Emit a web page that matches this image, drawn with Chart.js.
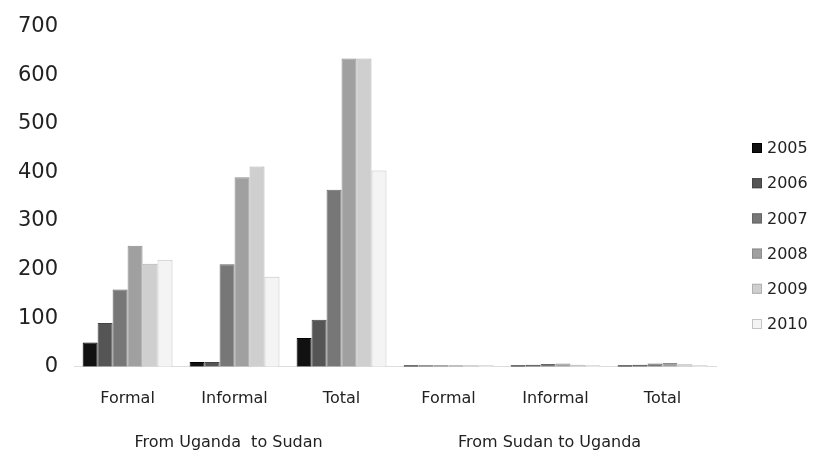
<!DOCTYPE html>
<html>
<head>
<meta charset="utf-8">
<script src="https://cdn.jsdelivr.net/npm/chart.js@4.4.1/dist/chart.umd.min.js"></script>
<style>
  html, body { margin: 0; padding: 0; background: #fff; }
  #wrap { width: 829px; height: 457px; position: relative; }
</style>
</head>
<body>
<div id="wrap"><canvas id="tradeChart"></canvas></div>
<script>
// categories and groups
const categories = ["Formal", "Informal", "Total", "Formal", "Informal", "Total"];
const groups = ["From Uganda  to Sudan", "From Sudan to Uganda"];
const years = ["2005", "2006", "2007", "2008", "2009", "2010"];

// values per year, one per category
const v2005 = [50, 10, 59, 3, 3, 3];
const v2006 = [90, 10, 97, 3, 4, 4];
const v2007 = [159, 211, 364, 3, 6, 7];
const v2008 = [249, 390, 634, 3, 7, 8];
const v2009 = [212, 412, 634, 3, 4, 5];
const v2010 = [220, 185, 404, 3, 3, 3];

const yTicks = [0, 100, 200, 300, 400, 500, 600, 700];

const fills = ["#111111", "#555555", "#777777", "#a0a0a0", "#cfcfcf", "#f4f4f4"];
const borders = ["#000000", "#444444", "#666666", "#8c8c8c", "#b0b0b0", "#c4c4c4"];

const series = [v2005, v2006, v2007, v2008, v2009, v2010];

const FONT = "'DejaVu Sans', Verdana, sans-serif";

// group labels under the category labels + legend on the right
const extras = {
  id: "extras",
  afterDraw(chart) {
    const { ctx, scales: { x } } = chart;
    ctx.save();
    ctx.font = "16px " + FONT;
    ctx.fillStyle = "#222";
    ctx.textAlign = "center";
    ctx.textBaseline = "middle";
    groups.forEach((g, i) => {
      const mid = (x.getPixelForValue(i * 3) + x.getPixelForValue(i * 3 + 2)) / 2;
      ctx.fillText(g, mid - 6, 443);
    });

    // legend
    ctx.font = "16px " + FONT;
    ctx.textAlign = "left";
    chart.data.datasets.forEach((ds, i) => {
      const cy = 148 + i * 35.2;
      ctx.fillStyle = ds.backgroundColor;
      ctx.strokeStyle = ds.borderColor;
      ctx.lineWidth = 1;
      ctx.fillRect(752, cy - 5, 10, 10);
      ctx.strokeRect(752.5, cy - 4.5, 9, 9);
      ctx.fillStyle = "#222";
      ctx.fillText(ds.label, 767, cy + 1);
    });
    ctx.restore();
  },
};

const ctx = document.getElementById("tradeChart").getContext("2d");
const myChart = new Chart(ctx, {
  type: "bar",
  data: {
    labels: categories,
    datasets: years.map((yr, i) => ({
      label: yr,
      data: series[i],
      backgroundColor: fills[i],
      borderColor: borders[i],
      borderWidth: 1,
      categoryPercentage: 0.84,
      barPercentage: 1.0,
    })),
  },
  options: {
    responsive: true,
    maintainAspectRatio: false,
    animation: false,
    layout: { padding: { top: 1, right: 113, bottom: 27, left: 2 } },
    scales: {
      x: {
        grid: { display: false, drawTicks: false },
        border: { display: true, color: "#dddddd" },
        ticks: {
          padding: 22,
          color: "#222",
          font: { family: FONT, size: 16 },
        },
      },
      y: {
        min: 0,
        max: 700,
        afterBuildTicks: (axis) => { axis.ticks = yTicks.map((v) => ({ value: v })); },
        grid: { display: false, drawTicks: false },
        border: { display: false },
        ticks: {
          padding: 16,
          color: "#222",
          font: { family: FONT, size: 21, lineHeight: 1 },
        },
      },
    },
    plugins: {
      legend: { display: false },
      tooltip: { enabled: false },
    },
  },
  plugins: [extras],
});
</script>
</body>
</html>
